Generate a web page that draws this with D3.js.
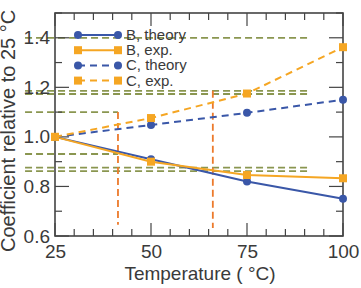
<!DOCTYPE html>
<html><head><meta charset="utf-8">
<script src="https://cdn.jsdelivr.net/npm/d3@7"></script>
<style>body{margin:0;background:#fff}svg{display:block}</style>
</head><body><svg id="c" width="361" height="288"></svg>
<script>
const temps = [25, 50, 75, 100];
const bTheory = [1.0, 0.91, 0.82, 0.75];
const bExp = [1.0, 0.90, 0.846, 0.833];
const cTheory = [1.0, 1.048, 1.097, 1.15];
const cExp = [1.0, 1.076, 1.175, 1.362];
const seriesNames = ["B, theory", "B, exp.", "C, theory", "C, exp."];
const xTicks = [25, 50, 75, 100];
const yTicks = [0.6, 0.8, 1.0, 1.2, 1.4];
// reference guides (data units)
const refLevels = [1.4, 1.186, 1.173, 1.10, 0.931, 0.876, 0.862];
const refStart = [17.2, 17.2, 17.2, 17.2, 17.2, 17.2, 17.2];
const refEnd = [90.9, 90.9, 90.9, 41.4, 41.4, 90.9, 90.9];
const vTemps = [41.4, 66.1];
const vTop = [1.10, 1.186];
const vBottom = [0.645, 0.632];

const svg = d3.select("#c");
const L = 55, R = 343, T = 13, B = 236;
const x = d3.scaleLinear().domain([25, 100]).range([L, R]);
const y = d3.scaleLinear().domain([0.6, 1.5]).range([B, T]);
const blue = "#3a57a8", amber = "#f5a623", vorange = "#ec7a2c", olive = "#8a9650";
const axisCol = "#444", textCol = "#3a3a3a";
const font = "Liberation Sans, Arial, sans-serif";

// reference lines
const g0 = svg.append("g");
refLevels.forEach((v, i) => {
  g0.append("line").attr("x1", x(refStart[i])).attr("x2", x(refEnd[i]))
    .attr("y1", y(v)).attr("y2", y(v))
    .attr("stroke", olive).attr("stroke-width", 1.8).attr("stroke-dasharray", "7,4");
});
vTemps.forEach((t, i) => {
  g0.append("line").attr("x1", x(t)).attr("x2", x(t))
    .attr("y1", y(vTop[i])).attr("y2", y(vBottom[i]))
    .attr("stroke", vorange).attr("stroke-width", 1.8).attr("stroke-dasharray", "7,4");
});

// axes labels
const gx = svg.append("g").attr("transform", `translate(0,${B})`)
  .call(d3.axisBottom(x).tickValues(xTicks).tickSize(0).tickPadding(5).tickFormat(d3.format("d")));
const gy = svg.append("g").attr("transform", `translate(${L},0)`)
  .call(d3.axisLeft(y).tickValues(yTicks).tickSize(0).tickPadding(5).tickFormat(d3.format(".1f")));
[gx, gy].forEach(g => {
  g.select(".domain").remove();
  g.selectAll("text").attr("font-family", font).attr("font-size", 19).attr("fill", textCol);
});
gx.selectAll("text").attr("dy", "0.9em");

// ticks (inward) on all four sides
const tg = svg.append("g").attr("stroke", axisCol).attr("stroke-width", 1.2);
d3.range(25, 100.1, 5).forEach(v => {
  const major = xTicks.includes(v);
  const len = major ? 13 : 7;
  tg.append("line").attr("x1", x(v)).attr("x2", x(v)).attr("y1", B).attr("y2", B - len);
  tg.append("line").attr("x1", x(v)).attr("x2", x(v)).attr("y1", T).attr("y2", T + len);
});
d3.range(0.6, 1.501, 0.1).forEach(v => {
  const major = yTicks.some(t => Math.abs(t - v) < 1e-6);
  const len = major ? 14 : 7;
  tg.append("line").attr("x1", L).attr("x2", L + len).attr("y1", y(v)).attr("y2", y(v));
  tg.append("line").attr("x1", R).attr("x2", R - len).attr("y1", y(v)).attr("y2", y(v));
});
svg.append("rect").attr("x", L).attr("y", T).attr("width", R - L).attr("height", B - T)
  .attr("fill", "none").attr("stroke", axisCol).attr("stroke-width", 1.6);

// series
const series = [
  {vals: bTheory, color: blue, dash: null, m: "c"},
  {vals: bExp, color: amber, dash: null, m: "s"},
  {vals: cTheory, color: blue, dash: "7,5", m: "c"},
  {vals: cExp, color: amber, dash: "7,5", m: "s"}
];
const line = d3.line().x(d => x(d[0])).y(d => y(d[1]));
function marker(g, cx, cy, s) {
  if (s.m === "c") g.append("circle").attr("cx", cx).attr("cy", cy).attr("r", 4).attr("fill", s.color);
  else g.append("rect").attr("x", cx - 4).attr("y", cy - 4).attr("width", 8).attr("height", 8).attr("fill", s.color);
}
const gs = svg.append("g");
series.forEach(s => {
  const pts = temps.map((t, i) => [t, s.vals[i]]);
  gs.append("path").attr("d", line(pts)).attr("fill", "none").attr("stroke", s.color)
    .attr("stroke-width", 2).attr("stroke-dasharray", s.dash);
  pts.forEach(p => marker(gs, x(p[0]), y(p[1]), s));
});

// legend
const lg = svg.append("g");
series.forEach((s, i) => {
  const ly = 35 + i * 15.2;
  lg.append("line").attr("x1", 78).attr("x2", 118).attr("y1", ly).attr("y2", ly)
    .attr("stroke", s.color).attr("stroke-width", 2).attr("stroke-dasharray", s.dash);
  marker(lg, 78, ly, s); marker(lg, 118, ly, s);
  lg.append("text").attr("x", 126).attr("y", ly + 5).text(seriesNames[i])
    .attr("font-family", font).attr("font-size", 15).attr("fill", textCol);
});

// axis titles
svg.append("text").attr("x", 200).attr("y", 280).attr("text-anchor", "middle")
  .attr("font-family", font).attr("font-size", 19).attr("fill", textCol).text("Temperature ( °C)");
svg.append("text").attr("transform", "translate(15,252) rotate(-90)").attr("text-anchor", "start")
  .attr("font-family", font).attr("font-size", 20).attr("fill", textCol).text("Coefficient relative to 25 °C");
</script></body></html>
